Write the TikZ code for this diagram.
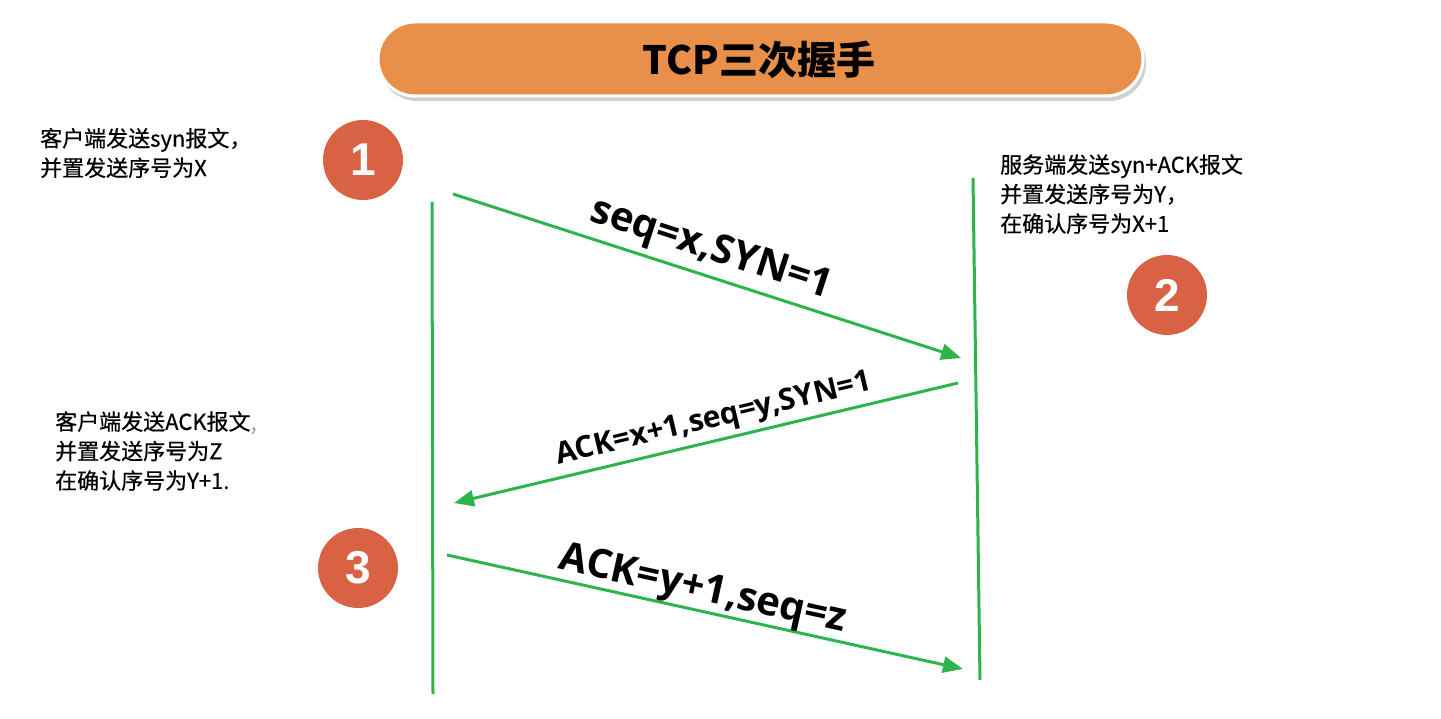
\documentclass[tikz,border=0pt]{standalone}
\usepackage{fontspec}
\setmainfont{Noto Sans CJK SC}
\newfontfamily\notefont[FakeBold=0.6]{Noto Sans CJK SC}
\newfontfamily\lab{Open Sans}
\newfontfamily\digit{Liberation Sans}
\usetikzlibrary{arrows.meta}
\definecolor{titleorange}{RGB}{232,143,74}
\definecolor{numred}{RGB}{217,98,68}
\definecolor{lgreen}{RGB}{45,181,75}
\tikzset{
  life/.style={draw=lgreen, line width=3pt},
  msg/.style={draw=lgreen, line width=3pt, -{Triangle[length=20pt,width=16pt]}},
  numcirc/.style={circle, fill=numred, minimum size=80pt, inner sep=0pt, text=white, font=\digit\bfseries\fontsize{46}{46}\selectfont},
  note/.style={align=left, anchor=west, inner sep=0pt, font=\notefont\fontsize{22}{29.5}\selectfont},
  msglabel/.style={inner sep=0pt, font=\lab\bfseries\fontsize{#1}{#1}\selectfont},
}
\begin{document}
\begin{tikzpicture}[x=1pt,y=-1pt]
\useasboundingbox (0,0) rectangle (1441,719);
% title
\fill[black!18, rounded corners=37pt] (380,26) rectangle (1146,101);
\draw[draw=white, line width=3pt, fill=titleorange, rounded corners=37pt] (378,22) rectangle (1143,96);
\node[font=\bfseries\fontsize{39}{39}\selectfont] (title) at (759,60) {TCP三次握手};
% circles
\node[numcirc] (c1) at (363,160) {1};
\node[numcirc] (c2) at (1167,295) {2};
\node[numcirc] (c3) at (358,568) {3};
% lifelines
\coordinate (lt) at (432,202);
\coordinate (lb) at (433,694);
\coordinate (rt) at (973,178);
\coordinate (rb) at (980,680);
\draw[life] (lt) -- (lb);
\draw[life] (rt) -- (rb);
% messages
\coordinate (m1s) at (453,194);
\coordinate (m1e) at (961,358);
\coordinate (m2s) at (958,383);
\coordinate (m2e) at (454,503);
\coordinate (m3s) at (447,555);
\coordinate (m3e) at (963,669);
\draw[msg] (m1s) -- (m1e);
\draw[msg] (m2s) -- (m2e);
\draw[msg] (m3s) -- (m3e);
\node[msglabel=40, rotate=-18] (l1) at (711,250) {seq=x,SYN=1};
\node[msglabel=30, rotate=13.4] (l2) at (714,420) {ACK=x+1,seq=y,SYN=1};
\node[msglabel=40, rotate=-12.5] (l3) at (703,591) {ACK=y+1,seq=z};
% notes
\node[note] (n1) at (40,153) {客户端发送syn报文，\\并置发送序号为X};
\node[note] (n2) at (1000,194) {服务端发送syn+ACK报文\\并置发送序号为Y，\\在确认序号为X+1};
\node[note] (n3) at (55,451) {客户端发送ACK报文{\color{black!35},}\\并置发送序号为Z\\在确认序号为Y+1.};
\end{tikzpicture}
\end{document}
